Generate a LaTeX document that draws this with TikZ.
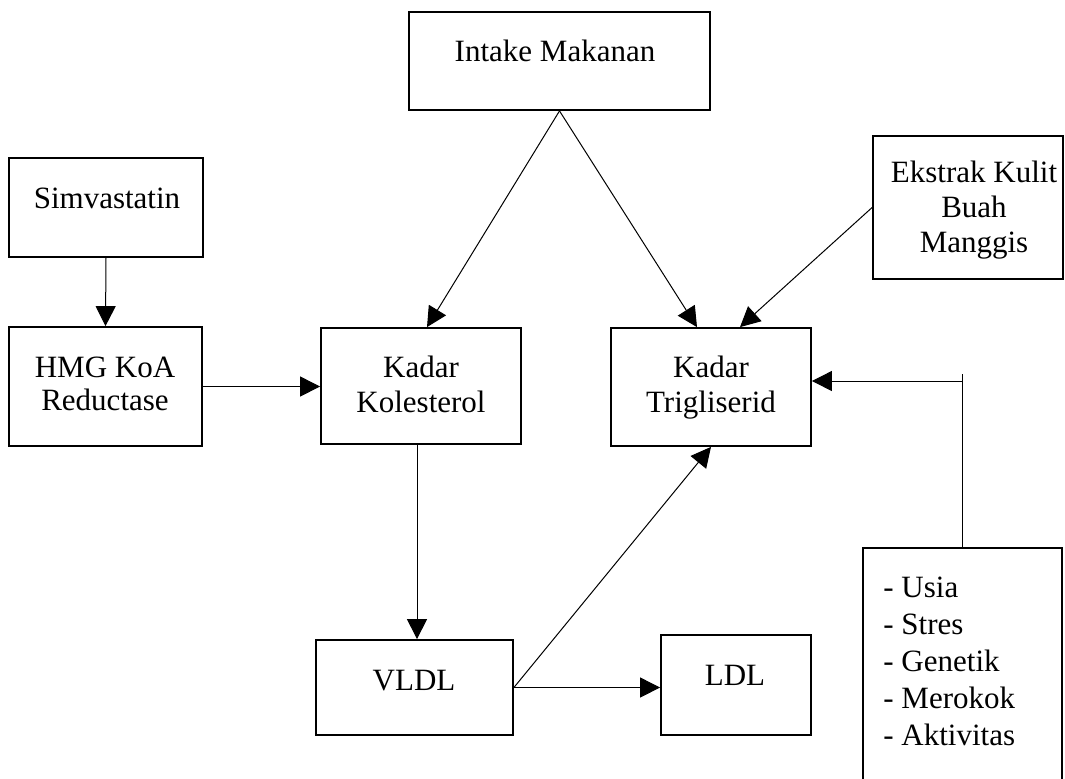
\documentclass[tikz,border=0pt]{standalone}
\usepackage{fontspec}
\setmainfont{Liberation Serif}
\usetikzlibrary{arrows.meta}
\newcommand{\boxlines}[2][c]{\begin{tabular}[t]{@{}#1@{}}#2\end{tabular}}

\begin{document}
\begin{tikzpicture}[x=0.5pt,y=-0.5pt,
    font=\fontsize{15.5}{17.5}\selectfont,
    block/.style={draw,line width=0.9pt,inner sep=0pt},
    txt/.style={inner sep=0pt,anchor=base},
    conn/.style={line width=0.5pt,-{Triangle[length=10pt,width=10pt]}}]

    \useasboundingbox (0,0) rectangle (1065,778);
    \clip (0,0) rectangle (1065,778);
    \fill[white] (0,0) rectangle (1065,778);

    % kotak
    \node[block,minimum width=150.5pt,minimum height=49pt] (intake) at (559.5,61) {};
    \node[block,minimum width=97pt,minimum height=49.5pt] (simva) at (106,207.5) {};
    \node[block,minimum width=96.5pt,minimum height=59.5pt] (hmg) at (105.5,386.5) {};
    \node[block,minimum width=100pt,minimum height=58pt] (kolest) at (421,386) {};
    \node[block,minimum width=100pt,minimum height=59pt] (trigli) at (711,387) {};
    \node[block,minimum width=95pt,minimum height=71.5pt] (manggis) at (968,207.5) {};
    \node[block,minimum width=98.5pt,minimum height=47.5pt] (vldl) at (414.5,687.5) {};
    \node[block,minimum width=75pt,minimum height=50pt] (ldl) at (736,685) {};
    \node[block,minimum width=99.5pt,minimum height=126pt] (faktor) at (962.5,674) {};

    % teks
    \node[txt] (intaketxt) at (555,61) {Intake Makanan};
    \node[txt] (simvatxt) at (107,208) {Simvastatin};
    \node[txt] (hmgtxt) at (105,377) {\boxlines{HMG KoA\\[-1pt] Reductase}};
    \node[txt] (kolesttxt) at (421,377) {\boxlines{Kadar\\ Kolesterol}};
    \node[txt] (triglitxt) at (711,377) {\boxlines{Kadar\\ Trigliserid}};
    \node[txt] (manggistxt) at (974,182) {\boxlines{Ekstrak Kulit\\ Buah\\ Manggis}};
    \node[txt] (vldltxt) at (414,690) {VLDL};
    \node[txt] (ldltxt) at (735,685) {LDL};
    \node[txt,anchor=base west] (faktortxt) at (883,597)
        {\boxlines[l]{- Usia\\[1pt] - Stres\\[1pt] - Genetik\\[1pt] - Merokok\\[1pt] - Aktivitas}};

    % panah
    \draw[conn] (simva.south) -- (hmg.north);
    \draw[conn] (hmg.east) -- (hmg.east -| kolest.west);
    \draw[conn] (intake.south) -- ([xshift=3pt]kolest.north);
    \draw[conn] (intake.south) -- ([xshift=-7pt]trigli.north);
    \draw[conn] (manggis.west) -- ([xshift=14.5pt]trigli.north);
    \draw[conn] ([xshift=-2pt]kolest.south) -- ([xshift=1.25pt]vldl.north);
    \draw[conn] (vldl.east) -- (trigli.south);
    \draw[conn] (vldl.east) -- (vldl.east -| ldl.west);
    \draw[line width=0.5pt] (faktor.north) -- ++(0,-173);
    \draw[conn] (faktor.north) |- ([yshift=3pt]trigli.east);
\end{tikzpicture}
\end{document}
